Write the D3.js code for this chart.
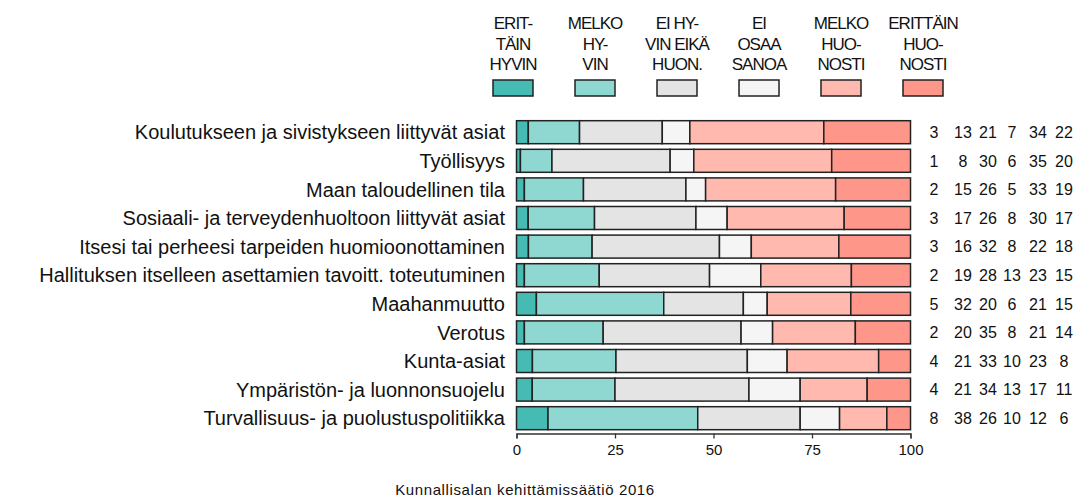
<!DOCTYPE html>
<html><head><meta charset="utf-8">
<script src="https://cdnjs.cloudflare.com/ajax/libs/d3/7.8.5/d3.min.js"></script>
<style>
body{margin:0;background:#fff;}
svg text{font-family:"Liberation Sans",Arial,sans-serif;fill:#111;}
</style></head><body>
<svg id="c" width="1079" height="498"></svg>
<script>
const categories = [
  "Koulutukseen ja sivistykseen liittyvät asiat",
  "Työllisyys",
  "Maan taloudellinen tila",
  "Sosiaali- ja terveydenhuoltoon liittyvät asiat",
  "Itsesi tai perheesi tarpeiden huomioonottaminen",
  "Hallituksen itselleen asettamien tavoitt. toteutuminen",
  "Maahanmuutto",
  "Verotus",
  "Kunta-asiat",
  "Ympäristön- ja luonnonsuojelu",
  "Turvallisuus- ja puolustuspolitiikka"
];
const seriesNames = ["ERITTÄIN HYVIN","MELKO HYVIN","EI HYVIN EIKÄ HUONOSTI","EI OSAA SANOA","MELKO HUONOSTI","ERITTÄIN HUONOSTI"];
const legendLines = [
  ["ERIT-","TÄIN","HYVIN"],
  ["MELKO","HY-","VIN"],
  ["EI HY-","VIN EIKÄ","HUON."],
  ["EI","OSAA","SANOA"],
  ["MELKO","HUO-","NOSTI"],
  ["ERITTÄIN","HUO-","NOSTI"]
];
const values = [
  [3,13,21,7,34,22],
  [1,8,30,6,35,20],
  [2,15,26,5,33,19],
  [3,17,26,8,30,17],
  [3,16,32,8,22,18],
  [2,19,28,13,23,15],
  [5,32,20,6,21,15],
  [2,20,35,8,21,14],
  [4,21,33,10,23,8],
  [4,21,34,13,17,11],
  [8,38,26,10,12,6]
];
const colors = ["#45bbb4","#8fd8d2","#e4e4e4","#f5f5f5","#ffb9ae","#ff968a"];
const xTicks = [0,25,50,75,100];
const source = "Kunnallisalan kehittämissäätiö 2016";

const svg = d3.select("#c");
const x = d3.scaleLinear().domain([0,100]).range([516.5,910.5]);
const y = d3.scaleBand().domain(categories).range([117.9,432.5]).paddingInner(0.196).paddingOuter(0.098);

// normalize rows to 100
const rows = values.map((v,i)=>{
  const s = d3.sum(v);
  let c = 0;
  return v.map((d,j)=>{ const a=c; c += d*100/s; return {cat:categories[i], j, x0:a, x1:c, v:d}; });
});

const g = svg.append("g");
rows.forEach(r=>{
  g.selectAll(null).data(r).enter().append("rect")
    .attr("x",d=>x(d.x0)).attr("width",d=>x(d.x1)-x(d.x0))
    .attr("y",d=>y(d.cat)).attr("height",y.bandwidth())
    .attr("fill",d=>colors[d.j]).attr("stroke","#222").attr("stroke-width",1.5);
});

// category labels
svg.append("g").selectAll("text").data(categories).enter().append("text")
  .attr("x",505).attr("y",d=>y(d)+y.bandwidth()/2).attr("dy","0.36em")
  .attr("text-anchor","end").style("font-size","20px").text(d=>d);

// number columns
const numX = [934,963,988,1012,1038,1064];
values.forEach((v,i)=>{
  svg.append("g").selectAll("text").data(v).enter().append("text")
    .attr("x",(d,j)=>numX[j]).attr("y",y(categories[i])+y.bandwidth()/2).attr("dy","0.36em")
    .attr("text-anchor","middle").style("font-size","16px").text(d=>d);
});

// axis
const ax = svg.append("g").attr("transform","translate(0,433.5)")
  .call(d3.axisBottom(x).tickValues(xTicks).tickSize(5).tickSizeOuter(5).tickPadding(6));
ax.select(".domain").attr("stroke","#333").attr("stroke-width",1.3);
ax.selectAll(".tick line").attr("stroke","#333").attr("stroke-width",1.3);
ax.selectAll(".tick text").style("font-size","15px").style("font-family","Liberation Sans, Arial, sans-serif").attr("fill","#111");

// legend
const lx = d3.scaleBand().domain(seriesNames).range([472,964]);
const lg = svg.append("g").selectAll("g").data(seriesNames).enter().append("g")
  .attr("transform",d=>`translate(${lx(d)+lx.bandwidth()/2},0)`);
lg.append("rect").attr("x",-20).attr("y",80).attr("width",40).attr("height",16)
  .attr("fill",(d,i)=>colors[i]).attr("stroke","#222").attr("stroke-width",1.5);
lg.each(function(d,i){
  d3.select(this).selectAll("text").data(legendLines[i]).enter().append("text")
    .attr("x",0).attr("y",(t,k)=>29+k*20.5).attr("text-anchor","middle")
    .style("font-size","17px").style("letter-spacing","-1px").text(t=>t);
});

// source
svg.append("text").attr("x",525).attr("y",495).attr("text-anchor","middle")
  .style("font-size","15px").style("letter-spacing","0.6px").text(source);
</script>
</body></html>
